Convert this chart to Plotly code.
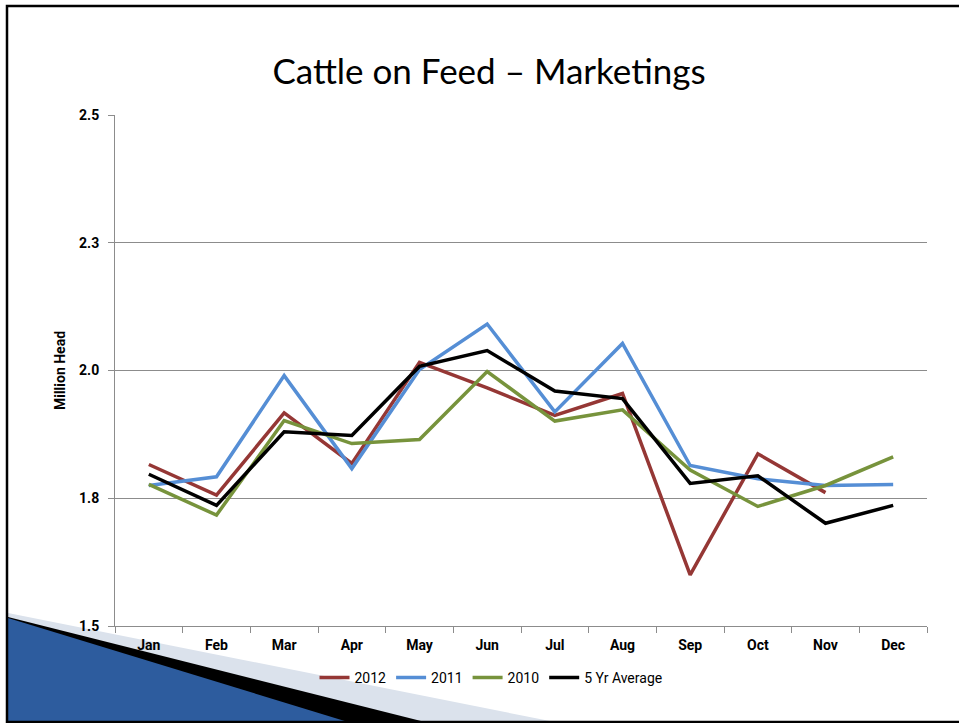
import plotly.graph_objects as go

months = ['Jan', 'Feb', 'Mar', 'Apr', 'May', 'Jun', 'Jul', 'Aug', 'Sep', 'Oct', 'Nov', 'Dec']

# million head
y2012 = [1.816, 1.756, 1.917, 1.818, 2.016, 1.966, 1.912, 1.955, 1.600, 1.837, 1.761, None]
y2011 = [1.775, 1.792, 1.990, 1.808, 2.002, 2.091, 1.919, 2.053, 1.814, 1.788, 1.775, 1.777]
y2010 = [1.777, 1.717, 1.902, 1.857, 1.865, 1.998, 1.901, 1.923, 1.805, 1.734, 1.775, 1.831]
avg5 = [1.797, 1.736, 1.880, 1.873, 2.008, 2.039, 1.960, 1.945, 1.779, 1.794, 1.701, 1.736]

series = [
    ('2012', y2012, '#953735'),
    ('2011', y2011, '#558ed5'),
    ('2010', y2010, '#77933c'),
    ('5 Yr Average', avg5, '#000000'),
]

tick_vals = [1.5, 1.75, 2.0, 2.25, 2.5]
tick_text = ['1.5', '1.8', '2.0', '2.3', '2.5']

W, H = 959, 723
L, R, T, B = 115, 32, 115, 97
pw, ph = W - L - R, H - T - B


def px(x):
    return (x - L) / pw


def py(y):
    return (H - B - y) / ph


fig = go.Figure()
for name, vals, col in series:
    fig.add_trace(go.Scatter(x=months, y=vals, name=name, mode='lines',
                             line=dict(color=col, width=3.5)))

lab_font = dict(family='Roboto, Liberation Sans, sans-serif', size=14, color='black')

# slide decoration: frame and bottom-left wedge
shapes = [
    dict(type='path', xref='paper', yref='paper', layer='below',
         path=f'M {px(8)},{py(613)} L {px(555)},{py(722)} L {px(8)},{py(722)} Z',
         fillcolor='#dbe2ec', line=dict(width=0)),
    dict(type='path', xref='paper', yref='paper', layer='below',
         path=f'M {px(8)},{py(617)} L {px(425)},{py(722)} L {px(8)},{py(722)} Z',
         fillcolor='#000000', line=dict(width=0)),
    dict(type='path', xref='paper', yref='paper', layer='below',
         path=f'M {px(8)},{py(618)} L {px(348)},{py(722)} L {px(8)},{py(722)} Z',
         fillcolor='#2d5c9e', line=dict(width=0)),
    dict(type='rect', xref='paper', yref='paper', layer='above',
         x0=px(7), x1=px(965), y0=py(6), y1=py(722),
         line=dict(color='black', width=2.5), fillcolor='rgba(0,0,0,0)'),
]

fig.update_layout(
    width=W, height=H,
    margin=dict(l=L, r=R, t=T, b=B),
    paper_bgcolor='white', plot_bgcolor='rgba(0,0,0,0)',
    title=dict(text='Cattle on Feed \u2013 Marketings', x=px(489), xanchor='center', xref='paper',
               y=1 - 72 / H, yanchor='middle',
               font=dict(family='Lato, Open Sans, sans-serif', size=35, color='black')),
    shapes=shapes,
    showlegend=True,
    legend=dict(orientation='h', x=px(491), xanchor='center', y=py(678), yanchor='middle',
                font=dict(family='Roboto, Liberation Sans, sans-serif', size=14, color='black'),
                itemwidth=30, tracegroupgap=0, bgcolor='rgba(0,0,0,0)'),
    xaxis=dict(type='category', range=[-0.5, 11.5], showgrid=False, tickson='boundaries',
               ticks='outside', ticklen=6, tickcolor='#8c8c8c', showline=True, linecolor='#8c8c8c',
               linewidth=1, tickfont=dict(lab_font, weight='bold'), ticklabelstandoff=6,
               zeroline=False),
    yaxis=dict(range=[1.5, 2.5], tickvals=tick_vals, ticktext=tick_text, showgrid=True,
               gridcolor='#8c8c8c', gridwidth=1, ticks='outside', ticklen=6, tickcolor='#8c8c8c',
               showline=True, linecolor='#8c8c8c', linewidth=1, zeroline=False,
               tickfont=dict(lab_font, weight='bold'), ticklabelstandoff=6,
               title=dict(text='Million Head', font=dict(lab_font, weight='bold'), standoff=10)),
)

fig.write_html('out.html', config={'displayModeBar': False},
               post_script="document.body.style.margin='0';")
